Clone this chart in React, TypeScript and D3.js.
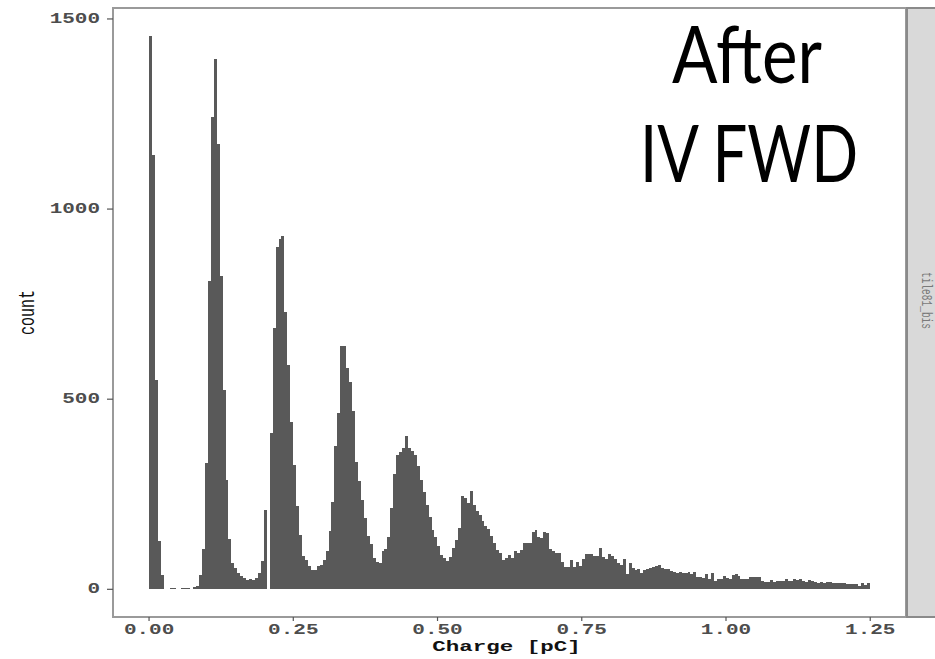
import React from 'react';
import * as d3 from 'd3';

// ---- data ----
const binStart = 0;
const binWidth = 0.0051; // pC
const counts: number[] = [
  1456, 1143, 551, 127, 37, 2, 0, 3, 4, 1,
  2, 4, 3, 4, 2, 6, 10, 38, 105, 333,
  810, 1241, 1394, 1171, 823, 523, 287, 132, 68, 57,
  42, 36, 30, 25, 28, 24, 31, 42, 75, 208,
  0, 412, 687, 900, 920, 928, 730, 590, 441, 328,
  220, 144, 87, 77, 61, 52, 50, 61, 65, 77,
  100, 153, 229, 376, 465, 640, 640, 581, 546, 468,
  336, 284, 236, 188, 140, 118, 83, 72, 70, 100,
  105, 138, 214, 302, 354, 362, 372, 404, 372, 363,
  352, 325, 288, 255, 222, 190, 157, 138, 115, 90,
  83, 74, 85, 109, 131, 162, 245, 240, 226, 258,
  222, 205, 195, 180, 166, 158, 140, 122, 103, 95,
  77, 83, 91, 83, 100, 96, 103, 122, 122, 122,
  150, 155, 138, 135, 152, 147, 105, 100, 96, 96,
  72, 59, 59, 76, 59, 72, 61, 79, 92, 94,
  92, 87, 87, 109, 86, 80, 94, 88, 80, 68,
  63, 80, 39, 70, 57, 51, 54, 42, 51, 54,
  57, 59, 61, 63, 57, 54, 54, 48, 46, 44,
  45, 44, 44, 45, 39, 45, 33, 32, 31, 39,
  28, 42, 22, 26, 28, 35, 30, 26, 37, 39,
  35, 26, 28, 28, 32, 32, 32, 32, 22, 19,
  19, 24, 19, 22, 22, 22, 26, 22, 22, 26,
  24, 26, 22, 19, 24, 22, 19, 16, 19, 17,
  19, 19, 17, 17, 17, 16, 16, 14, 14, 13,
  13, 10, 16, 12, 16,
];
const xTicks = [0, 0.25, 0.5, 0.75, 1.0, 1.25];
const yTicks = [0, 500, 1000, 1500];
const xLabel = 'Charge [pC]';
const yLabel = 'count';
const stripLabel = 'tile81_bis';
const titleLines = ['After', 'IV FWD'];

// ---- layout ----
const W = 935;
const H = 659;
const panel = { left: 113, right: 906, top: 8, bottom: 617 };
const stripRight = 948;
const SX = 1.5; // horizontal stretch of the original picture
const monoFont = "'Liberation Mono', 'DejaVu Sans Mono', monospace";
const titleFont = "Lato, 'Open Sans', sans-serif";

export default function App() {
  const bins = counts.map((c, i) => ({
    x0: binStart + i * binWidth,
    x1: binStart + (i + 1) * binWidth,
    count: c,
  }));
  const xMin = binStart;
  const xMax = binStart + counts.length * binWidth;
  const xPad = (xMax - xMin) * 0.05;
  const x = d3.scaleLinear().domain([xMin - xPad, xMax + xPad]).range([panel.left, panel.right]);
  const yMaxC = d3.max(counts) as number;
  const y = d3.scaleLinear().domain([-yMaxC * 0.05, yMaxC * 1.05]).range([panel.bottom, panel.top]);

  const fmtX = d3.format('.2f');

  return (
    <svg
      width={W}
      height={H}
      style={{ position: 'absolute', left: 0, top: 0, background: '#fff' }}
    >
      <rect x={0} y={0} width={W} height={H} fill="#fff" />
      {/* bars */}
      <g shapeRendering="crispEdges">
        {bins.map((b, i) =>
          b.count > 0 ? (
            <rect
              key={i}
              x={x(b.x0)}
              y={y(b.count)}
              width={x(b.x1) - x(b.x0)}
              height={y(0) - y(b.count)}
              fill="#595959"
            />
          ) : null
        )}
      </g>
      {/* panel border */}
      <rect
        x={panel.left}
        y={panel.top}
        width={panel.right - panel.left}
        height={panel.bottom - panel.top}
        fill="none"
        stroke="#9a9a9a"
        strokeWidth={2}
      />
      {/* strip */}
      <rect
        x={panel.right + 1}
        y={panel.top}
        width={stripRight - panel.right}
        height={panel.bottom - panel.top}
        fill="#d9d9d9"
        stroke="#8a8a8a"
        strokeWidth={2}
      />
      <text
        transform={`translate(${(panel.right + stripRight) / 2 - 1},${(panel.top + panel.bottom) / 2 - 12}) scale(${SX},1) rotate(90)`}
        textAnchor="middle"
        dominantBaseline="central"
        fontFamily={monoFont}
        fontSize={9.5}
        fill="#7a7a7a"
      >
        {stripLabel}
      </text>
      {/* y axis */}
      <g>
        {yTicks.map((t) => (
          <g key={t}>
            <line x1={panel.left - 6} x2={panel.left} y1={y(t)} y2={y(t)} stroke="#555" strokeWidth={1.2} />
            <text
              transform={`translate(${panel.left - 13},${y(t)}) scale(${SX},1)`}
              textAnchor="end"
              dominantBaseline="central"
              fontFamily={monoFont}
              fontWeight="bold"
              fontSize={14}
              fill="#4d4d4d"
            >
              {t}
            </text>
          </g>
        ))}
      </g>
      {/* x axis */}
      <g>
        {xTicks.map((t) => (
          <g key={t}>
            <line x1={x(t)} x2={x(t)} y1={panel.bottom} y2={panel.bottom + 4} stroke="#555" strokeWidth={1.2} />
            <text
              transform={`translate(${x(t)},${panel.bottom + 17}) scale(${SX},1)`}
              textAnchor="middle"
              fontFamily={monoFont}
              fontWeight="bold"
              fontSize={14}
              fill="#4d4d4d"
            >
              {fmtX(t)}
            </text>
          </g>
        ))}
      </g>
      {/* axis titles */}
      <text
        transform={`translate(${(panel.left + panel.right) / 2 - 3},${panel.bottom + 34}) scale(${SX},1)`}
        textAnchor="middle"
        fontFamily={monoFont}
        fontWeight="bold"
        fontSize={15}
        fill="#111"
      >
        {xLabel}
      </text>
      <text
        transform={`translate(${34},${(panel.top + panel.bottom) / 2}) scale(${SX},1) rotate(-90)`}
        textAnchor="middle"
        fontFamily={monoFont}
        fontSize={15}
        fill="#111"
      >
        {yLabel}
      </text>
      {/* overlay title */}
      <text
        x={747}
        y={83}
        textAnchor="middle"
        fontFamily={titleFont}
        fontSize={79}
        textLength={150}
        lengthAdjust="spacingAndGlyphs"
        fill="#000"
      >
        {titleLines[0]}
      </text>
      <text
        x={749}
        y={182}
        textAnchor="middle"
        fontFamily={titleFont}
        fontSize={79}
        textLength={218}
        lengthAdjust="spacingAndGlyphs"
        fill="#000"
      >
        {titleLines[1]}
      </text>
    </svg>
  );
}
